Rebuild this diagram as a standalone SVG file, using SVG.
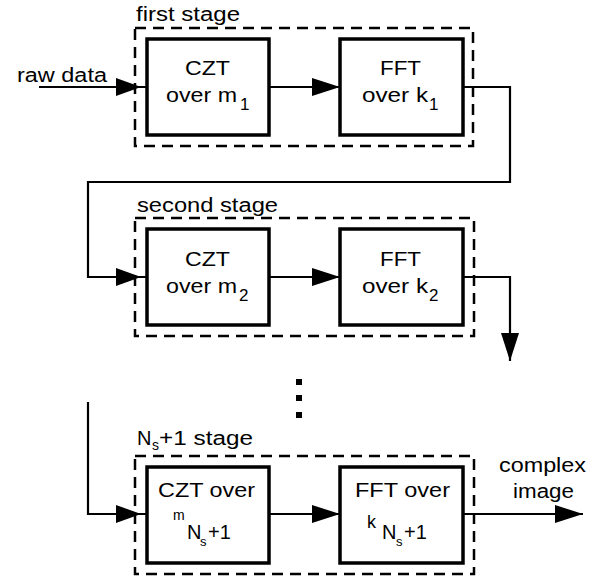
<svg xmlns="http://www.w3.org/2000/svg" width="602" height="579" viewBox="0 0 602 579">
<style>
text{font-family:"Liberation Sans",Arial,Helvetica,sans-serif;font-size:20px;fill:#000}
.stage{fill:none;stroke:#000;stroke-width:2.5;stroke-dasharray:11 7}
.box{fill:#fff;stroke:#000;stroke-width:3.5}
.conn{fill:none;stroke:#000;stroke-width:2.2}
.sub{font-size:17px}
.dot{fill:#000}
</style>
<defs>
<marker id="ah" markerUnits="userSpaceOnUse" markerWidth="30" markerHeight="20" refX="28" refY="10" orient="auto" viewBox="0 0 30 20">
<path d="M0,1 L28,10 L0,19 z" fill="#000"/>
</marker>
<marker id="ahIn" markerUnits="userSpaceOnUse" markerWidth="34" markerHeight="20" refX="31" refY="10" orient="auto" viewBox="0 0 34 20">
<path d="M0,1 L25,10 L0,19 z" fill="#000"/>
</marker>
</defs>
<rect width="602" height="579" fill="#fff"/>

<g id="stage1">
<text x="136" y="21" textLength="104" lengthAdjust="spacingAndGlyphs">first stage</text>
<rect class="stage" x="135" y="28" width="338" height="118"/>
</g>
<g id="stage2">
<text x="137" y="212" textLength="141" lengthAdjust="spacingAndGlyphs">second stage</text>
<rect class="stage" x="135" y="218" width="339" height="118"/>
</g>
<g id="stage3">
<text x="137" y="445">N<tspan class="sub" x="152" y="450" style="font-size:14px">s</tspan><tspan x="159" y="445" textLength="94" lengthAdjust="spacingAndGlyphs">+1 stage</tspan></text>
<rect class="stage" x="135" y="456" width="339" height="118"/>
</g>

<g id="connectors">
<path class="conn" d="M39,87 H147" marker-end="url(#ahIn)"/>
<path class="conn" d="M269,87 H340" marker-end="url(#ah)"/>
<path class="conn" d="M463,87 H510 V182 H88 V277 H147" marker-end="url(#ahIn)"/>
<path class="conn" d="M269,277 H340" marker-end="url(#ah)"/>
<path class="conn" d="M463,277 H510 V361" marker-end="url(#ah)"/>
<path class="conn" d="M88,402 V514 H147" marker-end="url(#ahIn)"/>
<path class="conn" d="M269,514 H340" marker-end="url(#ah)"/>
<path class="conn" d="M463,514 H583" marker-end="url(#ah)"/>
</g>

<g id="czt1">
<rect class="box" x="147" y="39" width="122" height="96"/>
<text x="185" y="75" textLength="45" lengthAdjust="spacingAndGlyphs">CZT</text>
<text x="166" y="102" textLength="71" lengthAdjust="spacingAndGlyphs">over m</text>
<text class="sub" x="240" y="110">1</text>
</g>
<g id="fft1">
<rect class="box" x="340" y="39" width="123" height="96"/>
<text x="380" y="75" textLength="41" lengthAdjust="spacingAndGlyphs">FFT</text>
<text x="362" y="102" textLength="66" lengthAdjust="spacingAndGlyphs">over k</text>
<text class="sub" x="429" y="110">1</text>
</g>

<g id="czt2">
<rect class="box" x="147" y="229" width="122" height="96"/>
<text x="185" y="266" textLength="45" lengthAdjust="spacingAndGlyphs">CZT</text>
<text x="166" y="293" textLength="71" lengthAdjust="spacingAndGlyphs">over m</text>
<text class="sub" x="239" y="301">2</text>
</g>
<g id="fft2">
<rect class="box" x="340" y="229" width="123" height="96"/>
<text x="380" y="266" textLength="41" lengthAdjust="spacingAndGlyphs">FFT</text>
<text x="362" y="293" textLength="66" lengthAdjust="spacingAndGlyphs">over k</text>
<text class="sub" x="429" y="301">2</text>
</g>

<g id="ellipsis">
<rect class="dot" x="296" y="379" width="6" height="6"/>
<rect class="dot" x="296" y="395" width="6" height="6"/>
<rect class="dot" x="296" y="412" width="6" height="6"/>
</g>

<g id="czt3">
<rect class="box" x="147" y="467" width="122" height="96"/>
<text x="158" y="497" textLength="97" lengthAdjust="spacingAndGlyphs">CZT over</text>
<text x="173" y="520" style="font-size:14px">m</text>
<text x="187" y="539">N<tspan x="200" y="546" style="font-size:13px">s</tspan><tspan x="208" y="539">+1</tspan></text>
</g>
<g id="fft3">
<rect class="box" x="340" y="467" width="123" height="96"/>
<text x="355" y="497" textLength="95" lengthAdjust="spacingAndGlyphs">FFT over</text>
<text x="367" y="528" style="font-size:18px">k</text>
<text x="382" y="539">N<tspan x="396" y="546" style="font-size:13px">s</tspan><tspan x="404" y="539">+1</tspan></text>
</g>

<g id="labels">
<text x="17" y="82" textLength="90" lengthAdjust="spacingAndGlyphs">raw data</text>
<text x="499" y="472" textLength="87" lengthAdjust="spacingAndGlyphs">complex</text>
<text x="513" y="498" textLength="61" lengthAdjust="spacingAndGlyphs">image</text>
</g>
</svg>
